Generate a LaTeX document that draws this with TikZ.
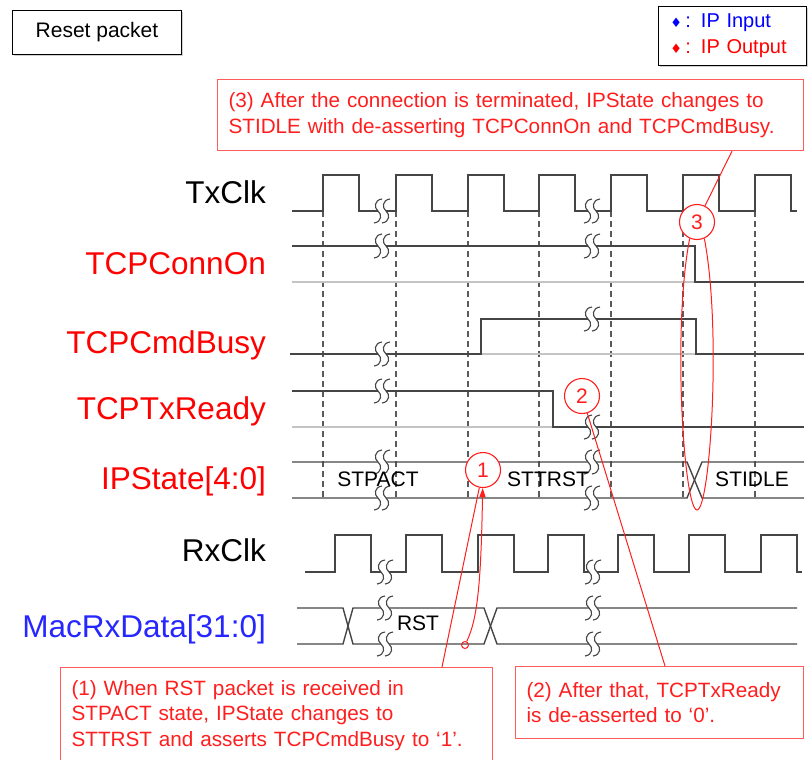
\documentclass[tikz,border=0pt]{standalone}
\usepackage{fontspec}
\setmainfont{Liberation Sans}
\newfontfamily\symfont{DejaVu Sans}
\usetikzlibrary{positioning,calc,arrows.meta,shadows}

\definecolor{wavegray}{HTML}{454545}
\definecolor{lowgray}{HTML}{C4C4C4}
\definecolor{gridgray}{HTML}{5A5A5A}
\definecolor{notered}{HTML}{FF1E1E}
\definecolor{boxred}{HTML}{FF5C5C}
\definecolor{sigblue}{HTML}{2626FF}

% break mark "SS" on a waveform at (x,y)
\newcommand{\wavebreak}[2]{%
  \fill[white] (#1,#2-12) .. controls (#1-8,#2-11) and (#1-8,#2-3) .. (#1-4,#2)
    .. controls (#1,#2+3) and (#1,#2+11) .. (#1-8,#2+12) -- (#1,#2+12)
    .. controls (#1+8,#2+11) and (#1+8,#2+3) .. (#1+4,#2)
    .. controls (#1,#2-3) and (#1,#2-11) .. (#1+8,#2-12) -- cycle;
  \draw[breakmark] (#1,#2-12) .. controls (#1-8,#2-11) and (#1-8,#2-3) .. (#1-4,#2)
    .. controls (#1,#2+3) and (#1,#2+11) .. (#1-8,#2+12);
  \draw[breakmark] (#1+8,#2-12) .. controls (#1,#2-11) and (#1,#2-3) .. (#1+4,#2)
    .. controls (#1+8,#2+3) and (#1+8,#2+11) .. (#1,#2+12);
}

\begin{document}
\begin{tikzpicture}[x=1pt,y=-1pt]
	% Styles
	\tikzstyle{wave}=[draw=wavegray, line width=1.4pt]
	\tikzstyle{lowline}=[draw=lowgray, line width=1.4pt]
	\tikzstyle{breakmark}=[draw=wavegray, line width=1.1pt]
	\tikzstyle{gridline}=[draw=gridgray, dash pattern=on 6pt off 4pt, line width=1.2pt]
	\tikzstyle{signame}=[anchor=base east, inner sep=0pt, font={\fontsize{31.5}{36}\selectfont}]
	\tikzstyle{statetext}=[inner sep=0pt, font={\fontsize{21}{25}\selectfont}]
	\tikzstyle{marker}=[circle, draw=notered, fill=white, line width=1.1pt, minimum size=35pt, inner sep=0pt, text=notered, font={\fontsize{21}{25}\selectfont}]
	\tikzstyle{notebox}=[draw=boxred, line width=1.1pt, anchor=north west, align=left, text=notered, inner xsep=11pt, font={\fontsize{20.7}{25.5}\selectfont}]
	\tikzstyle{pointer}=[draw=notered, line width=1pt]
	\tikzstyle{plainbox}=[draw=black, line width=0.9pt, fill=white, anchor=north west, drop shadow={shadow xshift=1.5pt, shadow yshift=-1.5pt, fill=gray!70}]

	\useasboundingbox (0,0) rectangle (811,760);

	% Header boxes
	\node[plainbox, minimum width=169pt, minimum height=44pt, font={\fontsize{21}{25}\selectfont}] (title) at (12,10) {Reset packet};
	\node[plainbox, text width=124pt, inner xsep=12pt, minimum height=59pt, align=left, font={\fontsize{20}{26}\selectfont}] (legend) at (658,6)
		{\textcolor{blue}{{\symfont\fontsize{13}{13}\selectfont ♦}\,: IP Input}\\
		 \textcolor{red}{{\symfont\fontsize{13}{13}\selectfont ♦}\,: IP Output}};

	% Signal names
	\node[signame] (txclk) at (266,203) {TxClk};
	\node[signame, text=red] (connon) at (266,274) {TCPConnOn};
	\node[signame, text=red] (cmdbusy) at (266,353) {TCPCmdBusy};
	\node[signame, text=red] (txready) at (266,419) {TCPTxReady};
	\node[signame, text=red] (ipstate) at (266,489) {IPState[4:0]};
	\node[signame] (rxclk) at (266,561) {RxClk};
	\node[signame, text=sigblue] (rxdata) at (266,637) {MacRxData[31:0]};

	% Clock edge guides
	\foreach \r in {323,396,468,539,611,683,755}
		\draw[gridline] (\r,211) -- (\r,500);

	% Waveforms
	\draw[wave] (292,211) foreach \r in {323,396,468,539,611,683,755} { -- (\r,211) -- (\r,175) -- (\r+36,175) -- (\r+36,211) } -- (797,211);

	\draw[lowline] (292,282) -- (695,282);
	\draw[wave] (292,246) -- (695,246) -- (695,282) -- (804,282);

	\draw[lowline] (481,354) -- (696,354);
	\draw[wave] (290,354) -- (481,354) -- (481,319) -- (696,319) -- (696,354) -- (804,354);

	\draw[lowline] (292,427) -- (553,427);
	\draw[wave] (292,391) -- (553,391) -- (553,427) -- (804,427);

	\draw[wave] (292,462) -- (687,462) -- (702,498) -- (804,498);
	\draw[wave] (292,498) -- (687,498) -- (702,462) -- (804,462);

	\draw[wave] (305,572) foreach \r in {335,406,478,548,618,689,761} { -- (\r,572) -- (\r,535) -- (\r+36,535) -- (\r+36,572) } -- (802,572);

	\draw[wave] (297,608) -- (343,608) -- (353,644) -- (484,644) -- (497,608) -- (797,608);
	\draw[wave] (297,644) -- (343,644) -- (353,608) -- (484,608) -- (497,644) -- (797,644);

	% Breaks
	\foreach \y in {211,246,354,391,462,498} \wavebreak{382}{\y};
	\foreach \y in {211,246,319,427,462,498} \wavebreak{592}{\y};
	\foreach \y in {572,608,644} { \wavebreak{385}{\y} \wavebreak{593}{\y} }

	% State values
	\node[statetext] (stpact) at (378,479) {STPACT};
	\node[statetext] (sttrst) at (548,479) {STTRST};
	\node[statetext] (stidle) at (752,479) {STIDLE};
	\node[statetext] (rst) at (418,623) {RST};

	% Notes
	\node[notebox, text width=564pt, minimum height=71pt] (note3) at (217,79)
		{(3) After the connection is terminated, IPState changes to\\STIDLE with de-asserting TCPConnOn and TCPCmdBusy.};
	\node[notebox, text width=410pt, minimum height=96pt] (note1) at (60,667)
		{(1) When RST packet is received in\\STPACT state, IPState changes to\\STTRST and asserts TCPCmdBusy to ‘1’.};
	\node[notebox, text width=266pt, minimum height=72pt] (note2) at (515,666)
		{(2) After that, TCPTxReady\\is de-asserted to ‘0’.};

	% Markers
	\node[marker] (m1) at (483,470) {1};
	\node[marker] (m2) at (582,396) {2};
	\node[marker] (m3) at (697,222) {3};
	\node[circle, draw=notered, line width=1pt, minimum size=7pt, inner sep=0pt] (tap) at (465,645) {};

	% Pointers
	\draw[pointer] (m1) -- ([xshift=382pt]note1.north west);
	\draw[pointer] (m2) -- ([xshift=150pt]note2.north west);
	\draw[pointer] (m3) -- ([xshift=515pt]note3.south west);
	\draw[pointer, -{Triangle[length=9pt,width=6pt]}] (tap) .. controls (478,618) and (481,580) .. (m1);
	\draw[pointer] (m3.246) .. controls (672,330) and (684,510) .. (697,510) .. controls (710,510) and (722,330) .. (m3.294);
\end{tikzpicture}
\end{document}
